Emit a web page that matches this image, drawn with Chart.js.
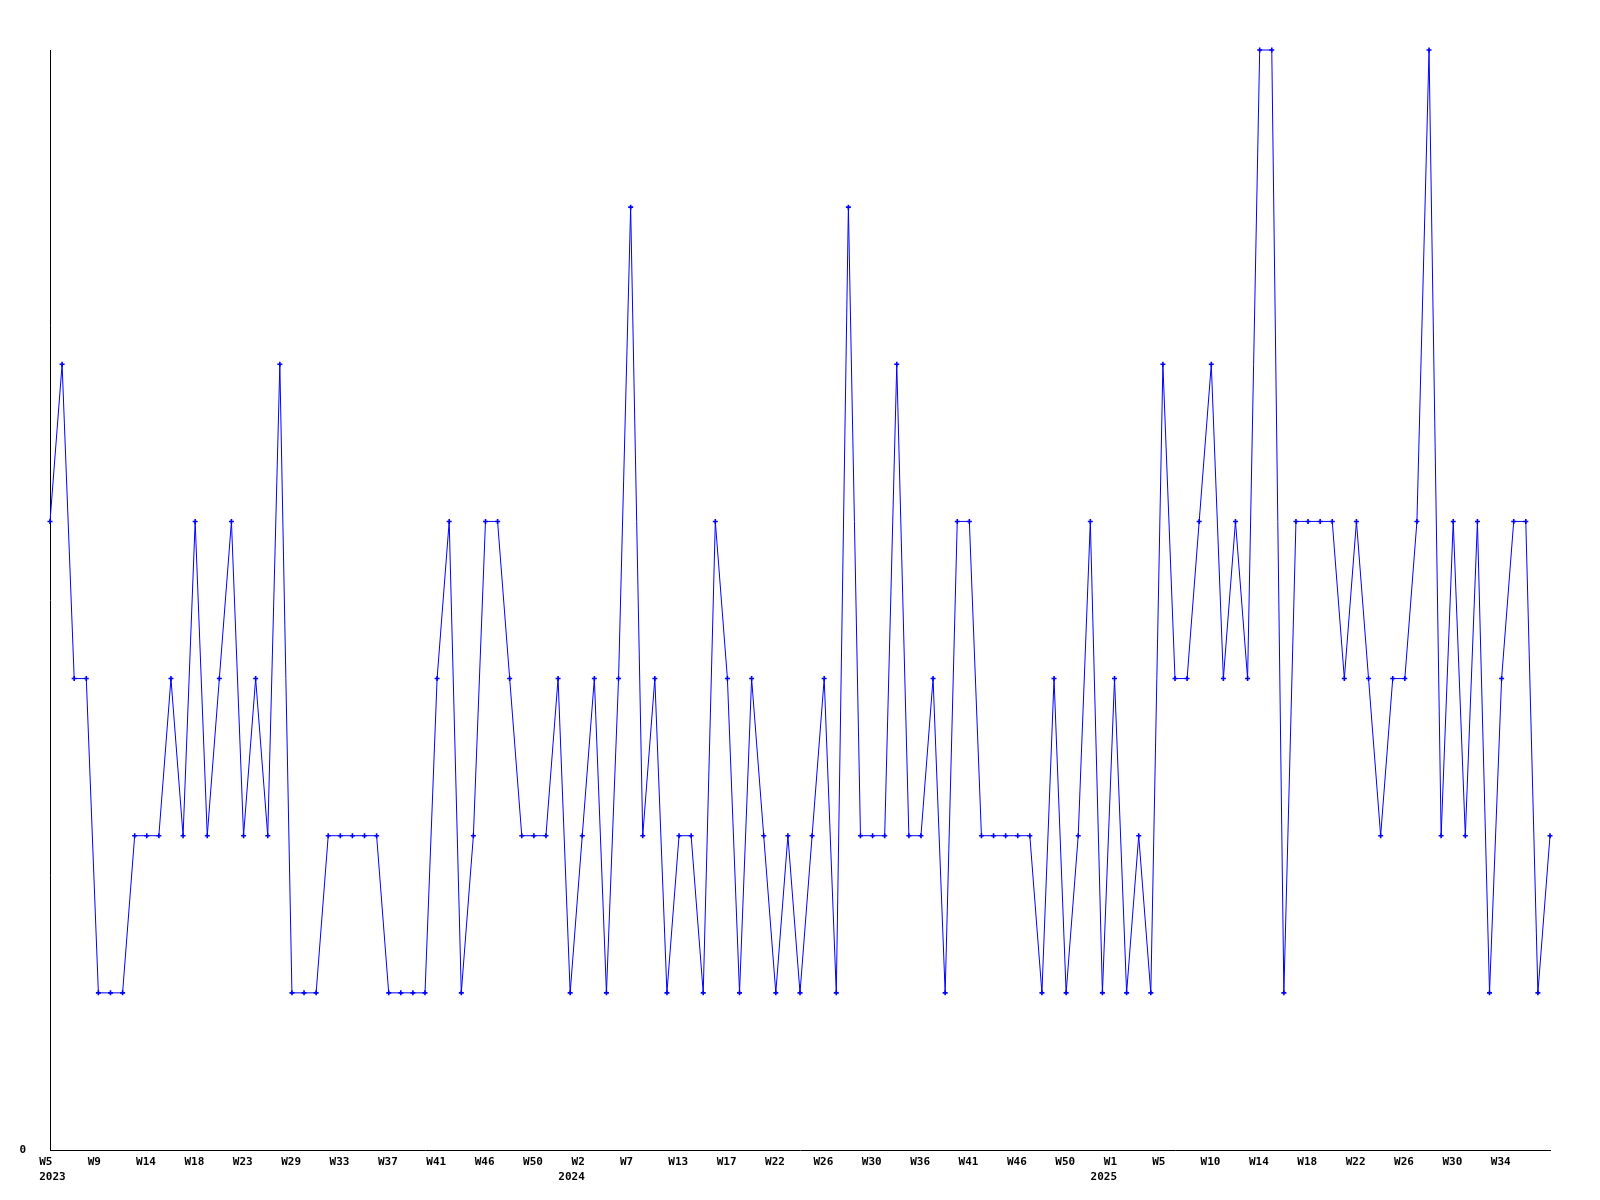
<!DOCTYPE html>
<html>
<head>
<meta charset="utf-8">
<script src="https://cdn.jsdelivr.net/npm/chart.js@4.4.1/dist/chart.umd.min.js"></script>
<style>
  html, body { margin: 0; padding: 0; background: #fff; }
  #wrap { width: 1600px; height: 1200px; position: relative; }
</style>
</head>
<body>
<div id="wrap"><canvas id="myChart"></canvas></div>
<script>
// week numbers present in the data, per year (weeks without data are missing)
var weeks2023 = [5, 6, 7, 8, 9, 10, 11, 12, 14, 15, 16, 17, 18, 19, 20, 21, 23, 24, 26, 27,
  29, 30, 31, 32, 33, 34, 35, 36, 37, 38, 39, 40, 41, 42, 43, 45, 46, 47, 48, 49, 50, 51, 52];
var weeks2024 = [1, 2, 3, 4, 6, 7, 8, 10, 11, 13, 14, 15, 16, 17, 18, 19, 21, 22, 23, 24,
  25, 26, 27, 28, 29, 30, 31, 33, 34, 36, 37, 38, 40, 41, 42, 43, 45, 46, 47, 48, 49, 50, 51, 52, 53];
var weeks2025 = [1, 2, 3, 4, 5, 6, 7, 9, 10, 11, 12, 13, 14, 15, 16, 17, 18, 19, 20, 21,
  22, 23, 24, 25, 26, 27, 28, 29, 30, 31, 32, 33, 34, 35, 36, 37, 38];

var arrData = [
  4, 5, 3, 3, 1, 1, 1, 2, 2, 2,
  3, 2, 4, 2, 3, 4, 2, 3, 2, 5,
  1, 1, 1, 2, 2, 2, 2, 2, 1, 1,
  1, 1, 3, 4, 1, 2, 4, 4, 3, 2,
  2, 2, 3, 1, 2, 3, 1, 3, 6, 2,
  3, 1, 2, 2, 1, 4, 3, 1, 3, 2,
  1, 2, 1, 2, 3, 1, 6, 2, 2, 2,
  5, 2, 2, 3, 1, 4, 4, 2, 2, 2,
  2, 2, 1, 3, 1, 2, 4, 1, 3, 1,
  2, 1, 5, 3, 3, 4, 5, 3, 4, 3,
  7, 7, 1, 4, 4, 4, 4, 3, 4, 3,
  2, 3, 3, 4, 7, 2, 4, 2, 4, 1,
  3, 4, 4, 1, 2
];

var arrLabels = [];
var arrYears = [];
[[2023, weeks2023], [2024, weeks2024], [2025, weeks2025]].forEach(function (y) {
  y[1].forEach(function (w) {
    arrLabels.push("W" + w);
    arrYears.push(y[0]);
  });
});

var font = { family: "DejaVu Sans Mono", weight: "bold", size: 11, lineHeight: 1.32 };

const ctx = document.getElementById("myChart");

new Chart(ctx, {
  type: "line",
  data: {
    labels: arrLabels,
    datasets: [
      {
        data: arrData,
        borderColor: "#0000ff",
        backgroundColor: "#0000ff",
        borderWidth: 1,
        tension: 0,
        pointStyle: "cross",
        pointRadius: 2.5,
        pointBorderWidth: 1.6,
        pointBorderColor: "#0000ff",
        clip: false,
      },
    ],
  },
  options: {
    responsive: true,
    maintainAspectRatio: false,
    animation: false,
    layout: { padding: { top: 50, right: 50, left: 0, bottom: 0 } },
    plugins: {
      legend: { display: false },
      tooltip: { enabled: false },
    },
    scales: {
      x: {
        grid: { display: false, drawTicks: false },
        border: { display: true, color: "#000", width: 1 },
        ticks: {
          autoSkip: false,
          maxRotation: 0,
          align: "start",
          labelOffset: -24,
          padding: 5,
          color: "#000",
          font: font,
          callback: function (value, index) {
            // every 4th week gets a label, the last point has none
            if (index % 4 !== 0 || index > arrLabels.length - 4) return null;
            // week line sits two chars right of the year line
            var lab = "  " + arrLabels[index];
            var first = true;
            for (var j = index - 4; j >= 0; j -= 4) {
              if (arrYears[j] === arrYears[index]) { first = false; break; }
            }
            if (!first) return lab;
            var yr = String(arrYears[index]);
            if (index === 0) yr = "  " + yr;
            return [lab, yr];
          },
        },
        afterFit: function (scale) { scale.height = 50; },
      },
      y: {
        min: 0,
        max: 7,
        grid: { display: false, drawTicks: false },
        border: { display: true, color: "#000", width: 1 },
        ticks: {
          stepSize: 1,
          padding: 24,
          color: "#000",
          font: font,
          callback: function (v) { return v === 0 ? "0" : ""; },
        },
        afterFit: function (scale) { scale.width = 50; },
      },
    },
  },
});
</script>
</body>
</html>
